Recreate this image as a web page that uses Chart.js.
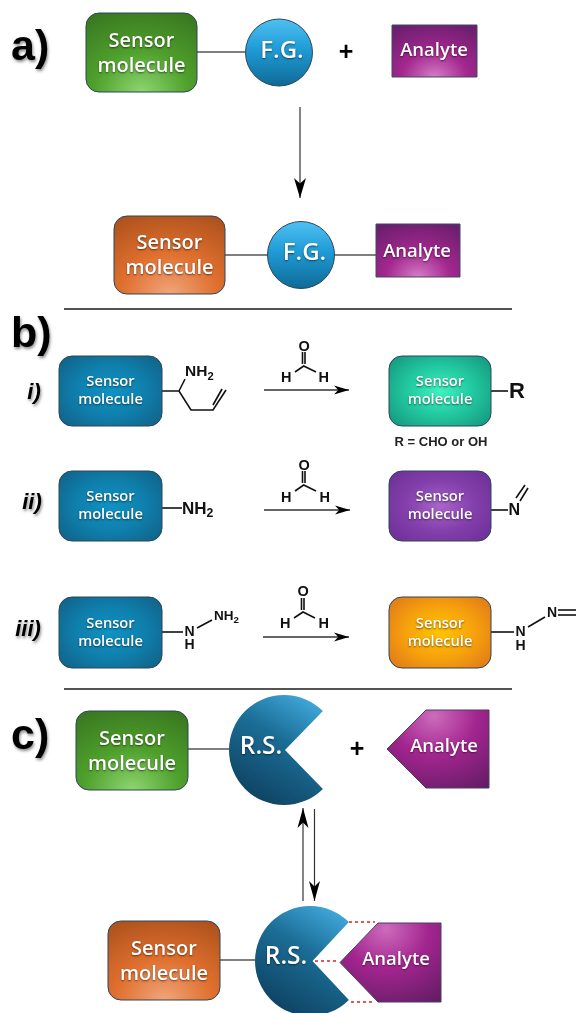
<!DOCTYPE html>
<html>
<head>
<meta charset="utf-8">
<title>Sensor schemes</title>
<script src="https://cdn.jsdelivr.net/npm/chart.js@4"></script>
<style>
html, body { margin: 0; padding: 0; background: #fff; }
canvas { display: block; }
</style>
</head>
<body>
<canvas id="chart" width="576" height="1013"></canvas>
<script>
// diagram items, in reference image units
const sensorBoxes = [
    { x0: 86, x1: 197, y0: 13, y1: 92, tone: "green", big: true },
    { x0: 114, x1: 225, y0: 216, y1: 294, tone: "orange", big: true },
    { x0: 59, x1: 162, y0: 356, y1: 426, tone: "blue" },
    { x0: 59, x1: 162, y0: 471, y1: 541, tone: "blue" },
    { x0: 59, x1: 162, y0: 597, y1: 668, tone: "blue" },
    { x0: 389, x1: 491, y0: 356, y1: 426, tone: "teal" },
    { x0: 389, x1: 491, y0: 471, y1: 541, tone: "purple" },
    { x0: 389, x1: 491, y0: 597, y1: 668, tone: "amber" },
    { x0: 76, x1: 188, y0: 711, y1: 790, tone: "green", big: true },
    { x0: 108, x1: 220, y0: 921, y1: 1000, tone: "orange", big: true }
];
const groupCircles = [
    { x: 279, y: 52.5, r: 33.5 },
    { x: 301, y: 255, r: 33.5 }
];
const analyteBoxes = [
    { x0: 392, x1: 477, y0: 25, y1: 77 },
    { x0: 376, x1: 460, y0: 224, y1: 277 }
];
const analyteTags = [
    { tip: 387, shoulder: 426, right: 489, y0: 710, y1: 788 },
    { tip: 340, shoulder: 378, right: 441, y0: 923, y1: 1002 }
];
const receptors = [
    { x: 284, y: 750, r: 55, vertex: 285 },
    { x: 310, y: 961, r: 55, vertex: 312.5 }
];
const connectors = [
    [[197, 52], [246, 52]],
    [[225, 255], [268, 255]],
    [[334, 255], [376, 255]],
    [[188, 749], [229, 749]],
    [[220, 960], [255, 960]]
];
const dividers = [
    [[64, 309], [512, 309]],
    [[64, 689], [512, 689]]
];
const bonds = [
    [[162, 391], [179, 391], [191, 410], [213, 410], [226, 390]],
    [[213, 405], [222, 389]],
    [[179, 391], [185, 379]],
    [[162, 508], [182, 508]],
    [[162, 632], [183, 632]],
    [[197, 628], [212, 620]],
    [[491, 391], [508, 391]],
    [[491, 510], [508, 510]],
    [[516, 498], [525, 485]],
    [[520, 501], [528, 488]],
    [[491, 632], [514, 632]],
    [[528, 627], [545, 617]],
    [[558, 610], [576, 610]],
    [[558, 615], [576, 615]],
    // formaldehyde
    [[302.5, 352], [302.5, 364]],
    [[305, 352], [305, 364]],
    [[295, 372], [303.7, 366], [316, 372]],
    [[302.5, 471], [302.5, 483]],
    [[305, 471], [305, 483]],
    [[295, 491], [303.7, 485], [316, 491]],
    [[301.5, 598], [301.5, 610]],
    [[304, 598], [304, 610]],
    [[294, 618], [303, 612], [315, 618]]
];
const hBonds = [
    [[349, 922], [375, 922]],
    [[315, 961], [338, 961]],
    [[351, 1002], [375, 1002]]
];
const arrows = [
    { x0: 300, y0: 107, x1: 300, y1: 198, len: 20, wid: 6, heavy: false },
    { x0: 264, y0: 390, x1: 349, y1: 390, len: 15, wid: 4.5, heavy: true },
    { x0: 264, y0: 510, x1: 350, y1: 510, len: 15, wid: 4.5, heavy: true },
    { x0: 263, y0: 637, x1: 349, y1: 637, len: 15, wid: 4.5, heavy: true },
    { x0: 303, y0: 901, x1: 303, y1: 808, len: 20, wid: 5.5, heavy: false },
    { x0: 314.5, y0: 809, x1: 314.5, y1: 901, len: 20, wid: 5.5, heavy: false }
];
const panelLabels = [
    { text: "a)", x: 11, y: 48 },
    { text: "b)", x: 11, y: 335 },
    { text: "c)", x: 11, y: 737 }
];
const romanLabels = [
    { text: "i)", x: 34, y: 393 },
    { text: "ii)", x: 32, y: 503 },
    { text: "iii)", x: 28, y: 630 }
];
const shapeLabels = [
    { text: "F.G.", x: 282, y: 51, size: 24 },
    { text: "F.G.", x: 304.5, y: 253, size: 24 },
    { text: "Analyte", x: 434, y: 51, size: 18.5 },
    { text: "Analyte", x: 417, y: 252, size: 18.5 },
    { text: "R.S.", x: 261, y: 747, size: 24.5 },
    { text: "R.S.", x: 286, y: 957, size: 24.5 },
    { text: "Analyte", x: 444, y: 747, size: 18.5 },
    { text: "Analyte", x: 396, y: 960, size: 18.5 }
];
const plusSigns = [
    { x: 346, y: 53 },
    { x: 357, y: 750 }
];
const atoms = [
    { text: "NH", sub: "2", x: 185, y: 372, size: 15.5 },
    { text: "NH", sub: "2", x: 182, y: 509, size: 17 },
    { text: "N", x: 184.5, y: 632, size: 14 },
    { text: "H", x: 184.5, y: 645, size: 14 },
    { text: "NH", sub: "2", x: 214, y: 616, size: 13.5 },
    { text: "O", x: 298.5, y: 347, size: 14.5 },
    { text: "H", x: 281, y: 378, size: 14.5 },
    { text: "H", x: 318.5, y: 378, size: 14.5 },
    { text: "O", x: 298.5, y: 466, size: 14.5 },
    { text: "H", x: 281, y: 498, size: 14.5 },
    { text: "H", x: 319.5, y: 498, size: 14.5 },
    { text: "O", x: 297.5, y: 592, size: 14.5 },
    { text: "H", x: 280, y: 624, size: 14.5 },
    { text: "H", x: 318.5, y: 624, size: 14.5 },
    { text: "R", x: 509, y: 392, size: 22 },
    { text: "N", x: 508.5, y: 511, size: 16 },
    { text: "N", x: 515.5, y: 632, size: 14 },
    { text: "H", x: 515.5, y: 646, size: 14 },
    { text: "N", x: 547, y: 613, size: 14 }
];
const notes = [
    { text: "R = CHO or OH", x: 441, y: 442, size: 13 }
];

const tones = {
    green: { glow: "#8ed670", mid: "#4fa02c", edge: "#37741f", base: true },
    orange: { glow: "#f0a57a", mid: "#e0702f", edge: "#a94f1b", base: true },
    blue: { glow: "#0f92c4", mid: "#0f80ad", edge: "#125b80" },
    teal: { glow: "#3ff2bf", mid: "#22c8a0", edge: "#128d76" },
    purple: { glow: "#a965c9", mid: "#8440ac", edge: "#682b92" },
    amber: { glow: "#ffc400", mid: "#f7a30c", edge: "#dd6f1c" }
};

const sans = "'Liberation Sans', Arial, sans-serif";
const openSans = "'Open Sans', 'Noto Sans', sans-serif";

function lineSet(points, color, width, dash) {
    return {
        data: points.map(p => ({ x: p[0], y: p[1] })),
        showLine: true,
        borderColor: color,
        borderWidth: width,
        borderDash: dash || [],
        pointRadius: 0,
        fill: false,
        tension: 0
    };
}

const datasets = [
    ...connectors.map(p => lineSet(p, "#555", 1.4)),
    ...dividers.map(p => lineSet(p, "#1a1a1a", 1.6)),
    ...bonds.map(p => lineSet(p, "#111", 1.6)),
    ...hBonds.map(p => lineSet(p, "#e02020", 1.3, [3, 3])),
    ...arrows.map(a => lineSet([[a.x0, a.y0], [a.x1, a.y1]], "#333", a.heavy ? 1.6 : 1.2))
];

function roundedPath(c, x0, y0, x1, y1, r) {
    c.beginPath();
    c.roundRect(x0, y0, x1 - x0, y1 - y0, r);
}

// elliptical glow, stops run glow -> mid -> edge
function glowFill(c, cx, cy, rx, ry, stops) {
    const g = c.createRadialGradient(0, 0, 0, 0, 0, 1);
    g.addColorStop(0, stops[0]);
    g.addColorStop(0.45, stops[1]);
    g.addColorStop(1, stops[2]);
    c.save();
    c.translate(cx, cy);
    c.scale(rx, ry);
    c.fillStyle = g;
    c.fill();
    c.restore();
}

function softText(c, text, x, y, size, weight) {
    c.save();
    c.font = (weight || 600) + " " + size + "px " + openSans;
    c.textAlign = "center";
    c.textBaseline = "middle";
    c.fillStyle = "#fff";
    c.shadowColor = "rgba(0,0,0,0.55)";
    c.shadowBlur = 2;
    c.shadowOffsetY = 1;
    c.fillText(text, x, y);
    c.restore();
}

const shapesPlugin = {
    id: "shapes",
    afterDatasetsDraw(chart) {
        const c = chart.ctx;
        const px = v => chart.scales.x.getPixelForValue(v);
        const py = v => chart.scales.y.getPixelForValue(v);

        sensorBoxes.forEach(b => {
            const t = tones[b.tone];
            const x0 = px(b.x0), x1 = px(b.x1), y0 = py(b.y0), y1 = py(b.y1);
            const w = x1 - x0, h = y1 - y0;
            roundedPath(c, x0, y0, x1, y1, 13);
            if (t.base) {
                glowFill(c, (x0 + x1) / 2, y1, w * 0.95, h * 1.15, [t.glow, t.mid, t.edge]);
            } else {
                glowFill(c, (x0 + x1) / 2, (y0 + y1) / 2, w * 0.72, h * 0.78, [t.glow, t.mid, t.edge]);
            }
            c.strokeStyle = "#2c4656";
            c.lineWidth = 1;
            c.stroke();
            const mid = (y0 + y1) / 2;
            const size = b.big ? 20 : 14.7;
            const gap = b.big ? 12.5 : 9;
            softText(c, "Sensor", (x0 + x1) / 2, mid - gap + (b.big ? 1 : 0), size);
            softText(c, "molecule", (x0 + x1) / 2, mid + gap + (b.big ? 1 : 0), size);
        });

        groupCircles.forEach(s => {
            const y = py(s.y);
            c.beginPath();
            c.arc(px(s.x), y, s.r, 0, Math.PI * 2);
            const g = c.createLinearGradient(0, y - s.r, 0, y + s.r);
            g.addColorStop(0, "#4fc0f2");
            g.addColorStop(0.45, "#1f9bd6");
            g.addColorStop(1, "#0f6a96");
            c.fillStyle = g;
            c.fill();
            c.strokeStyle = "#2c4656";
            c.lineWidth = 1;
            c.stroke();
        });

        analyteBoxes.forEach(b => {
            const x0 = px(b.x0), x1 = px(b.x1), y0 = py(b.y0), y1 = py(b.y1);
            c.beginPath();
            c.rect(x0, y0, x1 - x0, y1 - y0);
            glowFill(c, (x0 + x1) / 2, y1, (x1 - x0) * 0.85, (y1 - y0) * 1.1, ["#d57cc4", "#a3278f", "#6a1f6c"]);
            c.strokeStyle = "#3c4a66";
            c.lineWidth = 1;
            c.stroke();
        });

        analyteTags.forEach(b => {
            const mid = (b.y0 + b.y1) / 2;
            c.beginPath();
            c.moveTo(px(b.tip), py(mid));
            c.lineTo(px(b.shoulder), py(b.y0));
            c.lineTo(px(b.right), py(b.y0));
            c.lineTo(px(b.right), py(b.y1));
            c.lineTo(px(b.shoulder), py(b.y1));
            c.closePath();
            glowFill(c, px(b.shoulder) + 8, py(b.y0) + 6, 95, 88, ["#cc6cbc", "#a3258f", "#5f1c62"]);
            c.strokeStyle = "#4b3c66";
            c.lineWidth = 1;
            c.stroke();
        });

        receptors.forEach(m => {
            const x = px(m.x), y = py(m.y);
            const a = Math.PI / 4;
            c.beginPath();
            c.arc(x, y, m.r, -a, a, true);
            c.lineTo(px(m.vertex), y);
            c.closePath();
            const g = c.createLinearGradient(x + 35, y - 50, x - 25, y + 50);
            g.addColorStop(0, "#43ace0");
            g.addColorStop(0.45, "#1b6d96");
            g.addColorStop(1, "#0f4464");
            c.fillStyle = g;
            c.fill();
        });

        shapeLabels.forEach(t => softText(c, t.text, px(t.x), py(t.y), t.size, 600));

        // barbed arrow heads
        c.fillStyle = "#000";
        arrows.forEach(a => {
            const ang = Math.atan2(py(a.y1) - py(a.y0), px(a.x1) - px(a.x0));
            c.save();
            c.translate(px(a.x1), py(a.y1));
            c.rotate(ang);
            c.beginPath();
            c.moveTo(0, 0);
            c.lineTo(-a.len, -a.wid);
            c.lineTo(-a.len * 0.72, 0);
            c.lineTo(-a.len, a.wid);
            c.closePath();
            c.fill();
            c.restore();
        });

        c.textBaseline = "middle";
        c.textAlign = "left";

        plusSigns.forEach(s => {
            c.font = "bold 25px " + sans;
            c.textAlign = "center";
            c.fillStyle = "#000";
            c.fillText("+", px(s.x), py(s.y));
        });

        c.textAlign = "left";
        atoms.forEach(a => {
            c.font = "bold " + a.size + "px " + sans;
            c.fillStyle = "#111";
            c.fillText(a.text, px(a.x), py(a.y));
            if (a.sub) {
                const w = c.measureText(a.text).width;
                c.font = "bold " + a.size * 0.72 + "px " + sans;
                c.fillText(a.sub, px(a.x) + w, py(a.y) + a.size * 0.3);
            }
        });

        notes.forEach(n => {
            c.font = "bold " + n.size + "px " + sans;
            c.textAlign = "center";
            c.fillStyle = "#222";
            c.fillText(n.text, px(n.x), py(n.y));
        });

        c.save();
        c.textAlign = "left";
        c.shadowColor = "rgba(0,0,0,0.45)";
        c.shadowBlur = 3;
        c.shadowOffsetX = 1;
        c.shadowOffsetY = 2;
        c.fillStyle = "#000";
        panelLabels.forEach(l => {
            c.font = "bold 43px " + sans;
            c.fillText(l.text, px(l.x), py(l.y));
        });
        romanLabels.forEach(l => {
            c.font = "italic bold 22px " + sans;
            c.textAlign = "center";
            c.fillText(l.text, px(l.x), py(l.y));
        });
        c.restore();
    }
};

const chart = new Chart(document.getElementById("chart").getContext("2d"), {
    type: "scatter",
    data: { datasets: datasets },
    options: {
        responsive: false,
        animation: false,
        devicePixelRatio: 1,
        layout: { padding: 0 },
        plugins: {
            legend: { display: false },
            title: { display: false },
            tooltip: { enabled: false }
        },
        scales: {
            x: { type: "linear", min: 0, max: 576, display: false },
            y: { type: "linear", min: 0, max: 1013, reverse: true, display: false }
        }
    },
    plugins: [shapesPlugin]
});
</script>
</body>
</html>
